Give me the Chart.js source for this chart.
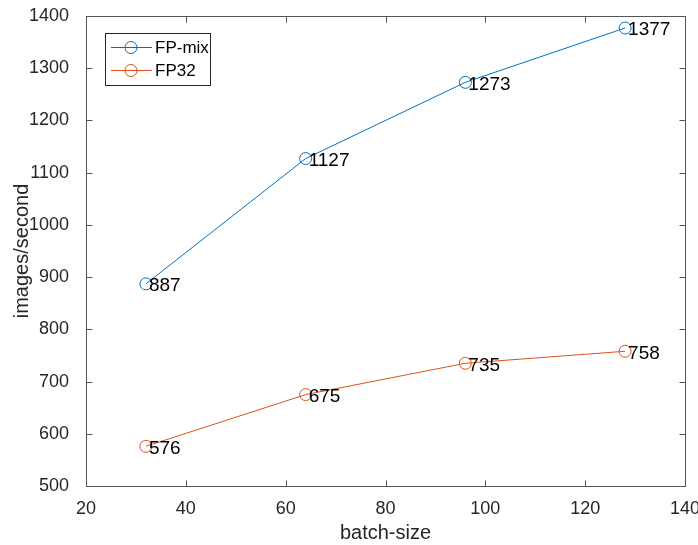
<!DOCTYPE html>
<html>
<head>
<meta charset="utf-8">
<script src="https://cdn.jsdelivr.net/npm/chart.js@4/dist/chart.umd.min.js"></script>
<style>
  html, body { margin: 0; padding: 0; background: #fff; }
  #wrap { width: 698px; height: 545px; position: relative; }
</style>
</head>
<body>
<div id="wrap"><canvas id="c"></canvas></div>
<script>
  const batchSizes = [32, 64, 96, 128];
  const fpMix = [887, 1127, 1273, 1377];
  const fp32 = [576, 675, 735, 758];
  const seriesNames = ["FP-mix", "FP32"];
  const xTicks = [20, 40, 60, 80, 100, 120, 140];
  const yTicks = [500, 600, 700, 800, 900, 1000, 1100, 1200, 1300, 1400];

  const BLUE = "#0072BD";
  const ORANGE = "#D95319";
  const FONT = "'Liberation Sans', Arial, Helvetica, sans-serif";
  const AXIS = "#555555";
  const TEXT = "#262626";

  const toPts = (vals) => vals.map((v, i) => ({ x: batchSizes[i], y: v }));

  function line(ctx, x1, y1, x2, y2) {
    ctx.beginPath();
    ctx.moveTo(x1, y1);
    ctx.lineTo(x2, y2);
    ctx.stroke();
  }

  // box, inward ticks, axis titles, value labels and legend, MATLAB style
  const matlabLook = {
    id: "matlabLook",
    afterDatasetsDraw(chart) {
      const { ctx, chartArea: a, scales } = chart;
      const L = Math.round(a.left) + 0.5, R = Math.round(a.right) + 0.5;
      const T = Math.round(a.top) + 0.5, B = Math.round(a.bottom) + 0.5;
      ctx.save();
      ctx.strokeStyle = AXIS;
      ctx.lineWidth = 1;
      ctx.strokeRect(L, T, R - L, B - T);
      const tl = 6;
      for (const t of xTicks) {
        const x = Math.round(scales.x.getPixelForValue(t)) + 0.5;
        line(ctx, x, B, x, B - tl);
        line(ctx, x, T, x, T + tl);
      }
      for (const t of yTicks) {
        const y = Math.round(scales.y.getPixelForValue(t)) + 0.5;
        line(ctx, L, y, L + tl, y);
        line(ctx, R, y, R - tl, y);
      }

      // axis titles
      ctx.fillStyle = TEXT;
      ctx.font = "20px " + FONT;
      ctx.textAlign = "center";
      ctx.textBaseline = "middle";
      ctx.fillText("batch-size", (a.left + a.right) / 2, 533);
      ctx.save();
      ctx.translate(22, (a.top + a.bottom) / 2);
      ctx.rotate(-Math.PI / 2);
      ctx.fillText("images/second", 0, 0);
      ctx.restore();

      // value labels next to each point
      ctx.fillStyle = "#000";
      ctx.font = "19px " + FONT;
      ctx.textAlign = "left";
      chart.data.datasets.forEach((ds) => {
        ds.data.forEach((p) => {
          const px = scales.x.getPixelForValue(p.x);
          const py = scales.y.getPixelForValue(p.y);
          ctx.fillText(String(p.y), px + 3, py + 2);
        });
      });

      // legend
      const lx = 105.5, ly = 33.5, lw = 105, lh = 52;
      ctx.fillStyle = "#fff";
      ctx.fillRect(lx, ly, lw, lh);
      ctx.strokeStyle = "#262626";
      ctx.strokeRect(lx, ly, lw, lh);
      ctx.font = "17px " + FONT;
      chart.data.datasets.forEach((ds, i) => {
        const y = 47.5 + i * 23;
        ctx.strokeStyle = ds.borderColor;
        ctx.lineWidth = 1;
        line(ctx, 111, y, 152, y);
        ctx.beginPath();
        ctx.arc(131, y, 6, 0, Math.PI * 2);
        ctx.stroke();
        ctx.fillStyle = "#000";
        ctx.textAlign = "left";
        ctx.fillText(ds.label, 155, y + 1);
      });
      ctx.restore();
    },
  };

  new Chart(document.getElementById("c"), {
    type: "scatter",
    data: {
      datasets: [
        {
          label: seriesNames[0],
          data: toPts(fpMix),
          showLine: true,
          borderColor: BLUE,
          backgroundColor: "rgba(0,0,0,0)",
          borderWidth: 1,
          pointRadius: 6,
          pointBorderWidth: 1,
          pointBorderColor: BLUE,
          pointBackgroundColor: "rgba(0,0,0,0)",
          tension: 0,
        },
        {
          label: seriesNames[1],
          data: toPts(fp32),
          showLine: true,
          borderColor: ORANGE,
          backgroundColor: "rgba(0,0,0,0)",
          borderWidth: 1,
          pointRadius: 6,
          pointBorderWidth: 1,
          pointBorderColor: ORANGE,
          pointBackgroundColor: "rgba(0,0,0,0)",
          tension: 0,
        },
      ],
    },
    options: {
      responsive: true,
      maintainAspectRatio: false,
      animation: false,
      layout: { padding: { top: 16, right: 13, left: 0, bottom: 0 } },
      plugins: {
        legend: { display: false },
        tooltip: { enabled: false },
      },
      scales: {
        x: {
          type: "linear",
          min: 20,
          max: 140,
          afterBuildTicks: (s) => { s.ticks = xTicks.map((v) => ({ value: v })); },
          afterFit: (s) => { s.height = 59; s.paddingLeft = 0; s.paddingRight = 0; },
          grid: { display: false },
          border: { display: false },
          ticks: { color: TEXT, font: { size: 18, family: FONT }, padding: 4, maxRotation: 0, callback: (v) => String(v) },
        },
        y: {
          type: "linear",
          min: 500,
          max: 1400,
          afterBuildTicks: (s) => { s.ticks = yTicks.map((v) => ({ value: v })); },
          afterFit: (s) => { s.width = 86; s.paddingTop = 0; s.paddingBottom = 0; },
          grid: { display: false },
          border: { display: false },
          ticks: { color: TEXT, font: { size: 18, family: FONT }, padding: 9, callback: (v) => String(v) },
        },
      },
    },
    plugins: [matlabLook],
  });
</script>
</body>
</html>
